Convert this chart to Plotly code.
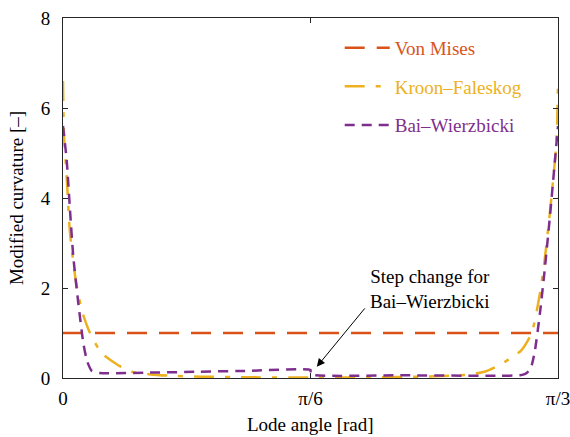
import math
import plotly.graph_objects as go

# ---- data ----
vm_theta = [0.0, math.pi / 3]
vm_vals = [1.0, 1.0]

kf_theta = [0.0, 0.0021, 0.0078, 0.0148, 0.0269, 0.0396, 0.0571, 0.0819, 0.116, 0.145,
            0.185, 0.226, 0.29, 0.40, 0.5236, 0.65, 0.755, 0.819, 0.862, 0.895, 0.924,
            0.948, 0.970, 0.9915, 1.009, 1.0197, 1.030, 1.0408, 1.045, 1.0472]
kf_vals = [6.6, 5.4, 4.47, 3.22, 2.18, 1.51, 1.0, 0.55, 0.29, 0.14,
           0.08, 0.05, 0.03, 0.015, 0.01, 0.015, 0.03, 0.05, 0.08, 0.15, 0.29,
           0.45, 0.62, 1.0, 1.88, 2.69, 3.67, 4.84, 5.5, 6.6]

bw_theta = [0.0, 0.0078, 0.0148, 0.0218, 0.0324, 0.0429, 0.0508, 0.0607, 0.0783,
            0.184, 0.29, 0.396, 0.5236, 0.52361, 0.713, 0.924, 0.967, 0.978, 0.986,
            0.992, 0.9986, 1.009, 1.0197, 1.030, 1.0408, 1.0472]
bw_vals = [5.6, 4.84, 3.73, 2.69, 1.66, 0.78, 0.38, 0.16, 0.11,
           0.12, 0.14, 0.16, 0.18, 0.08, 0.06, 0.05, 0.06, 0.09, 0.16,
           0.3, 0.62, 1.44, 2.47, 3.58, 4.84, 5.6]

x_tickvals = [0, math.pi / 6, math.pi / 3]
x_ticktext = ["0", "π/6", "π/3"]
y_tickvals = [0, 2, 4, 6, 8]

C_VM = "#D95319"
C_KF = "#EDB120"
C_BW = "#7E2F8E"
FONT = "Liberation Serif"

fig = go.Figure()
fig.add_trace(go.Scatter(x=vm_theta, y=vm_vals, mode="lines", legendgroup="a",
                         name=f"<span style='color:{C_VM}'>Von Mises</span>",
                         line=dict(color=C_VM, width=2.5, dash="20px,12px")))
fig.add_trace(go.Scatter(x=kf_theta, y=kf_vals, mode="lines", legendgroup="b",
                         name=f"<span style='color:{C_KF}'>Kroon–Faleskog</span>",
                         line=dict(color=C_KF, width=2.5, dash="20px,11px,5px,11px", shape="spline", smoothing=0.6)))
fig.add_trace(go.Scatter(x=bw_theta, y=bw_vals, mode="lines", legendgroup="c",
                         name=f"<span style='color:{C_BW}'>Bai–Wierzbicki</span>",
                         line=dict(color=C_BW, width=2.5, dash="10px,7px", shape="spline", smoothing=0.5)))

fig.add_annotation(x=0.537, y=0.25, ax=0.641, ay=1.58, axref="x", ayref="y",
                   xref="x", yref="y", text="", showarrow=True,
                   arrowhead=2, arrowsize=1.6, arrowwidth=1, arrowcolor="black")
fig.add_annotation(x=0.776, y=1.97, xref="x", yref="y",
                   text="Step change for<br>Bai–Wierzbicki", showarrow=False,
                   font=dict(family=FONT, size=19, color="black"))
# x-axis title as annotation for precise placement
fig.add_annotation(x=0.5, y=-0.13, xref="paper", yref="paper", yanchor="middle",
                   text="Lode angle [rad]", showarrow=False,
                   font=dict(family=FONT, size=19, color="black"))

axis_common = dict(showline=True, linecolor="#262626", linewidth=1, mirror="ticks",
                   ticks="inside", ticklen=5, tickcolor="#262626", showgrid=False,
                   zeroline=False, automargin=False, ticklabeloverflow="allow",
                   tickfont=dict(family=FONT, size=19, color="black"))

fig.update_xaxes(range=[0, math.pi / 3], tickvals=x_tickvals, ticktext=x_ticktext,
                 ticklabelstandoff=3, **axis_common)
fig.update_yaxes(range=[0, 8], tickvals=y_tickvals,
                 title=dict(text="Modified curvature [–]", font=dict(family=FONT, size=19, color="black"), standoff=12),
                 ticklabelstandoff=8, **axis_common)

fig.update_layout(
    width=570, height=437,
    margin=dict(l=63, r=12, t=18, b=59),
    paper_bgcolor="white", plot_bgcolor="white",
    font=dict(family=FONT, size=19, color="black"),
    legend=dict(x=0.559, y=0.97, xanchor="left", yanchor="top", bgcolor="rgba(0,0,0,0)",
                itemwidth=45, tracegroupgap=11, font=dict(family=FONT, size=19)),
    showlegend=True,
)

fig.write_html("out.html")
